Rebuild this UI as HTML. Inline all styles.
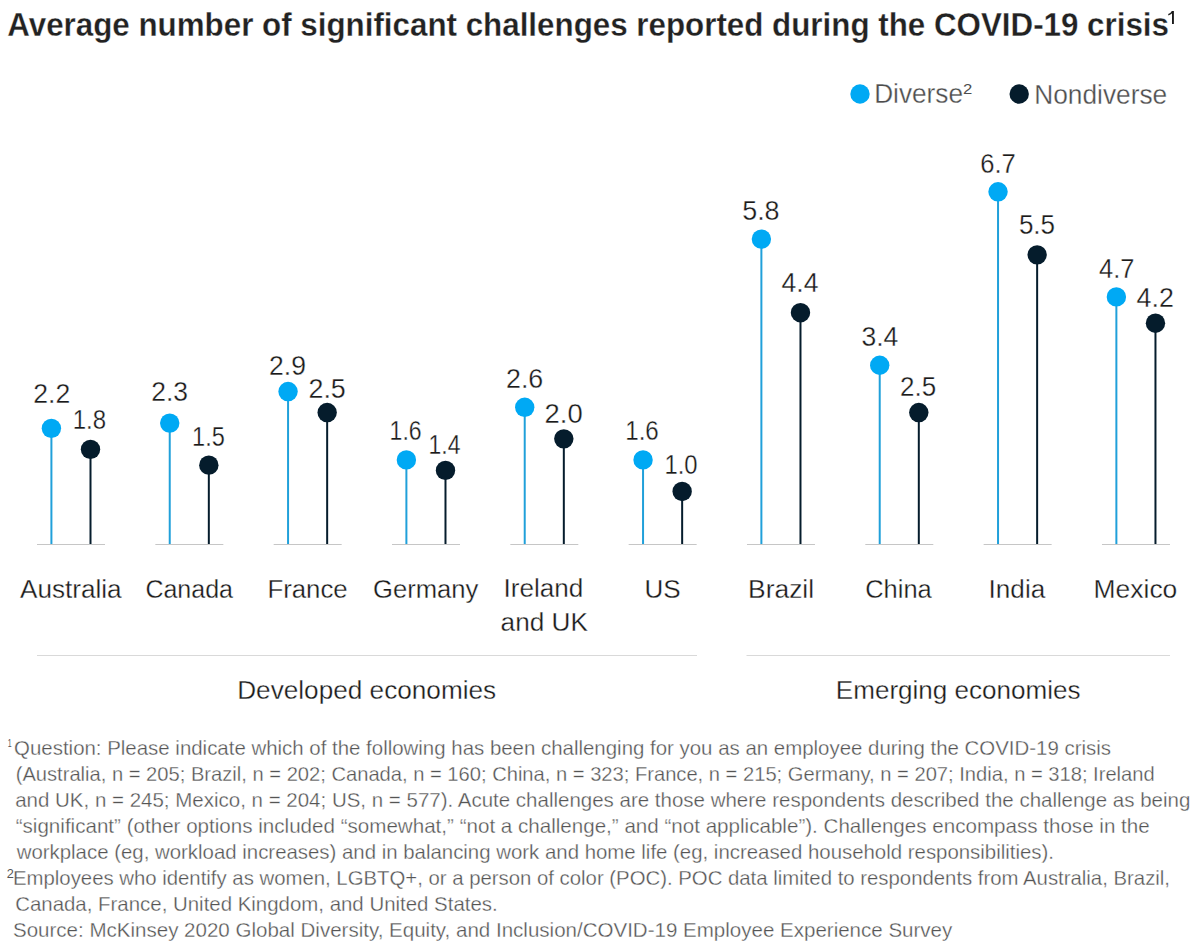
<!DOCTYPE html>
<html><head><meta charset="utf-8"><title>Average number of significant challenges reported during the COVID-19 crisis</title><style>
html,body{margin:0;padding:0;background:#fff;}
body{width:1200px;height:950px;overflow:hidden;}
svg{display:block;font-family:"Liberation Sans",sans-serif;}
text{stroke:#fff;stroke-width:0.3px;}
</style></head><body>
<svg width="1200" height="950" viewBox="0 0 1200 950">
<path d="M1172 10.9H1173.9V23.9H1172Z" fill="#1a1a1a"/><path d="M1168.3 14.7Q1171 14.3 1172.5 11.4" stroke="#1a1a1a" stroke-width="1.4" fill="none"/>
<circle cx="860" cy="94" r="9.7" fill="#00A9F4"/>
<circle cx="1019.2" cy="94" r="9.7" fill="#051C2C"/>
<line x1="37.00" y1="544.5" x2="105.00" y2="544.5" stroke="#c6c6c6" stroke-width="1"/>
<line x1="51.40" y1="428.35" x2="51.40" y2="544" stroke="#20A0DA" stroke-width="2"/>
<line x1="90.50" y1="449.37" x2="90.50" y2="544" stroke="#051C2C" stroke-width="2"/>
<circle cx="51.40" cy="428.35" r="9.7" fill="#00A9F4"/>
<circle cx="90.50" cy="449.37" r="9.7" fill="#051C2C"/>
<line x1="155.33" y1="544.5" x2="223.33" y2="544.5" stroke="#c6c6c6" stroke-width="1"/>
<line x1="169.73" y1="423.09" x2="169.73" y2="544" stroke="#20A0DA" stroke-width="2"/>
<line x1="208.83" y1="465.14" x2="208.83" y2="544" stroke="#051C2C" stroke-width="2"/>
<circle cx="169.73" cy="423.09" r="9.7" fill="#00A9F4"/>
<circle cx="208.83" cy="465.14" r="9.7" fill="#051C2C"/>
<line x1="273.66" y1="544.5" x2="341.66" y2="544.5" stroke="#c6c6c6" stroke-width="1"/>
<line x1="288.06" y1="391.55" x2="288.06" y2="544" stroke="#20A0DA" stroke-width="2"/>
<line x1="327.16" y1="412.57" x2="327.16" y2="544" stroke="#051C2C" stroke-width="2"/>
<circle cx="288.06" cy="391.55" r="9.7" fill="#00A9F4"/>
<circle cx="327.16" cy="412.57" r="9.7" fill="#051C2C"/>
<line x1="391.99" y1="544.5" x2="459.99" y2="544.5" stroke="#c6c6c6" stroke-width="1"/>
<line x1="406.39" y1="459.89" x2="406.39" y2="544" stroke="#20A0DA" stroke-width="2"/>
<line x1="445.49" y1="470.40" x2="445.49" y2="544" stroke="#051C2C" stroke-width="2"/>
<circle cx="406.39" cy="459.89" r="9.7" fill="#00A9F4"/>
<circle cx="445.49" cy="470.40" r="9.7" fill="#051C2C"/>
<line x1="510.32" y1="544.5" x2="578.32" y2="544.5" stroke="#c6c6c6" stroke-width="1"/>
<line x1="524.72" y1="407.32" x2="524.72" y2="544" stroke="#20A0DA" stroke-width="2"/>
<line x1="563.82" y1="438.86" x2="563.82" y2="544" stroke="#051C2C" stroke-width="2"/>
<circle cx="524.72" cy="407.32" r="9.7" fill="#00A9F4"/>
<circle cx="563.82" cy="438.86" r="9.7" fill="#051C2C"/>
<line x1="628.65" y1="544.5" x2="696.65" y2="544.5" stroke="#c6c6c6" stroke-width="1"/>
<line x1="643.05" y1="459.89" x2="643.05" y2="544" stroke="#20A0DA" stroke-width="2"/>
<line x1="682.15" y1="491.43" x2="682.15" y2="544" stroke="#051C2C" stroke-width="2"/>
<circle cx="643.05" cy="459.89" r="9.7" fill="#00A9F4"/>
<circle cx="682.15" cy="491.43" r="9.7" fill="#051C2C"/>
<line x1="746.98" y1="544.5" x2="814.98" y2="544.5" stroke="#c6c6c6" stroke-width="1"/>
<line x1="761.38" y1="239.09" x2="761.38" y2="544" stroke="#20A0DA" stroke-width="2"/>
<line x1="800.48" y1="312.69" x2="800.48" y2="544" stroke="#051C2C" stroke-width="2"/>
<circle cx="761.38" cy="239.09" r="9.7" fill="#00A9F4"/>
<circle cx="800.48" cy="312.69" r="9.7" fill="#051C2C"/>
<line x1="865.31" y1="544.5" x2="933.31" y2="544.5" stroke="#c6c6c6" stroke-width="1"/>
<line x1="879.71" y1="365.26" x2="879.71" y2="544" stroke="#20A0DA" stroke-width="2"/>
<line x1="918.81" y1="412.57" x2="918.81" y2="544" stroke="#051C2C" stroke-width="2"/>
<circle cx="879.71" cy="365.26" r="9.7" fill="#00A9F4"/>
<circle cx="918.81" cy="412.57" r="9.7" fill="#051C2C"/>
<line x1="983.64" y1="544.5" x2="1051.64" y2="544.5" stroke="#c6c6c6" stroke-width="1"/>
<line x1="998.04" y1="191.78" x2="998.04" y2="544" stroke="#20A0DA" stroke-width="2"/>
<line x1="1037.14" y1="254.87" x2="1037.14" y2="544" stroke="#051C2C" stroke-width="2"/>
<circle cx="998.04" cy="191.78" r="9.7" fill="#00A9F4"/>
<circle cx="1037.14" cy="254.87" r="9.7" fill="#051C2C"/>
<line x1="1101.97" y1="544.5" x2="1169.97" y2="544.5" stroke="#c6c6c6" stroke-width="1"/>
<line x1="1116.37" y1="296.92" x2="1116.37" y2="544" stroke="#20A0DA" stroke-width="2"/>
<line x1="1155.47" y1="323.21" x2="1155.47" y2="544" stroke="#051C2C" stroke-width="2"/>
<circle cx="1116.37" cy="296.92" r="9.7" fill="#00A9F4"/>
<circle cx="1155.47" cy="323.21" r="9.7" fill="#051C2C"/>
<line x1="37" y1="655.5" x2="697" y2="655.5" stroke="#d9d9d9" stroke-width="1"/>
<line x1="746.5" y1="655.5" x2="1170" y2="655.5" stroke="#d9d9d9" stroke-width="1"/>
<text id="title" x="7.30" y="35.5" textLength="1161.70" lengthAdjust="spacingAndGlyphs" style="font-size:32.6px;font-weight:bold;fill:#222222">Average number of significant challenges reported during the COVID-19 crisis</text>
<text id="ldiv" x="874.20" y="103.4" textLength="88.80" lengthAdjust="spacingAndGlyphs" style="font-size:27.2px;font-weight:normal;fill:#4d4d4d">Diverse</text>
<text id="lsup" x="963.00" y="94.0" textLength="9.30" lengthAdjust="spacingAndGlyphs" style="font-size:15.5px;font-weight:normal;fill:#4d4d4d;stroke:none">2</text>
<text id="lnon" x="1034.20" y="103.6" textLength="133.00" lengthAdjust="spacingAndGlyphs" style="font-size:27.2px;font-weight:normal;fill:#4d4d4d">Nondiverse</text>
<text id="v0a" x="33.30" y="403.0" textLength="37.00" lengthAdjust="spacingAndGlyphs" style="font-size:27.0px;font-weight:normal;fill:#1a1a1a">2.2</text>
<text id="v0b" x="72.70" y="429.2" textLength="33.40" lengthAdjust="spacingAndGlyphs" style="font-size:27.0px;font-weight:normal;fill:#1a1a1a">1.8</text>
<text id="v1a" x="151.30" y="401.3" textLength="36.80" lengthAdjust="spacingAndGlyphs" style="font-size:27.0px;font-weight:normal;fill:#1a1a1a">2.3</text>
<text id="v1b" x="192.10" y="445.6" textLength="32.70" lengthAdjust="spacingAndGlyphs" style="font-size:27.0px;font-weight:normal;fill:#1a1a1a">1.5</text>
<text id="v2a" x="269.10" y="374.9" textLength="36.90" lengthAdjust="spacingAndGlyphs" style="font-size:27.0px;font-weight:normal;fill:#1a1a1a">2.9</text>
<text id="v2b" x="308.50" y="397.6" textLength="37.30" lengthAdjust="spacingAndGlyphs" style="font-size:27.0px;font-weight:normal;fill:#1a1a1a">2.5</text>
<text id="v3a" x="389.60" y="439.6" textLength="32.00" lengthAdjust="spacingAndGlyphs" style="font-size:27.0px;font-weight:normal;fill:#1a1a1a">1.6</text>
<text id="v3b" x="428.50" y="453.8" textLength="31.90" lengthAdjust="spacingAndGlyphs" style="font-size:27.0px;font-weight:normal;fill:#1a1a1a">1.4</text>
<text id="v4a" x="506.00" y="387.9" textLength="37.30" lengthAdjust="spacingAndGlyphs" style="font-size:27.0px;font-weight:normal;fill:#1a1a1a">2.6</text>
<text id="v4b" x="544.60" y="422.5" textLength="38.10" lengthAdjust="spacingAndGlyphs" style="font-size:27.0px;font-weight:normal;fill:#1a1a1a">2.0</text>
<text id="v5a" x="625.20" y="439.8" textLength="33.60" lengthAdjust="spacingAndGlyphs" style="font-size:27.0px;font-weight:normal;fill:#1a1a1a">1.6</text>
<text id="v5b" x="664.40" y="473.5" textLength="33.10" lengthAdjust="spacingAndGlyphs" style="font-size:27.0px;font-weight:normal;fill:#1a1a1a">1.0</text>
<text id="v6a" x="742.20" y="219.5" textLength="37.40" lengthAdjust="spacingAndGlyphs" style="font-size:27.0px;font-weight:normal;fill:#1a1a1a">5.8</text>
<text id="v6b" x="781.60" y="292.4" textLength="36.90" lengthAdjust="spacingAndGlyphs" style="font-size:27.0px;font-weight:normal;fill:#1a1a1a">4.4</text>
<text id="v7a" x="861.40" y="346.0" textLength="36.90" lengthAdjust="spacingAndGlyphs" style="font-size:27.0px;font-weight:normal;fill:#1a1a1a">3.4</text>
<text id="v7b" x="900.00" y="395.9" textLength="36.10" lengthAdjust="spacingAndGlyphs" style="font-size:27.0px;font-weight:normal;fill:#1a1a1a">2.5</text>
<text id="v8a" x="980.20" y="172.7" textLength="35.60" lengthAdjust="spacingAndGlyphs" style="font-size:27.0px;font-weight:normal;fill:#1a1a1a">6.7</text>
<text id="v8b" x="1018.90" y="233.8" textLength="36.20" lengthAdjust="spacingAndGlyphs" style="font-size:27.0px;font-weight:normal;fill:#1a1a1a">5.5</text>
<text id="v9a" x="1099.00" y="278.4" textLength="35.40" lengthAdjust="spacingAndGlyphs" style="font-size:27.0px;font-weight:normal;fill:#1a1a1a">4.7</text>
<text id="v9b" x="1136.60" y="306.8" textLength="37.30" lengthAdjust="spacingAndGlyphs" style="font-size:27.0px;font-weight:normal;fill:#1a1a1a">4.2</text>
<text id="c0" x="20.00" y="597.6" textLength="101.60" lengthAdjust="spacingAndGlyphs" style="font-size:26.6px;font-weight:normal;fill:#1a1a1a">Australia</text>
<text id="c1" x="145.40" y="597.6" textLength="87.60" lengthAdjust="spacingAndGlyphs" style="font-size:26.6px;font-weight:normal;fill:#1a1a1a">Canada</text>
<text id="c2" x="267.40" y="597.6" textLength="80.30" lengthAdjust="spacingAndGlyphs" style="font-size:26.6px;font-weight:normal;fill:#1a1a1a">France</text>
<text id="c3" x="373.00" y="597.6" textLength="105.40" lengthAdjust="spacingAndGlyphs" style="font-size:26.6px;font-weight:normal;fill:#1a1a1a">Germany</text>
<text id="c4" x="503.50" y="597.4" textLength="79.80" lengthAdjust="spacingAndGlyphs" style="font-size:26.6px;font-weight:normal;fill:#1a1a1a">Ireland</text>
<text id="c4b" x="500.60" y="631.3" textLength="87.30" lengthAdjust="spacingAndGlyphs" style="font-size:26.6px;font-weight:normal;fill:#1a1a1a">and UK</text>
<text id="c5" x="644.50" y="597.6" textLength="36.20" lengthAdjust="spacingAndGlyphs" style="font-size:26.6px;font-weight:normal;fill:#1a1a1a">US</text>
<text id="c6" x="748.00" y="597.6" textLength="66.10" lengthAdjust="spacingAndGlyphs" style="font-size:26.6px;font-weight:normal;fill:#1a1a1a">Brazil</text>
<text id="c7" x="865.20" y="597.6" textLength="66.50" lengthAdjust="spacingAndGlyphs" style="font-size:26.6px;font-weight:normal;fill:#1a1a1a">China</text>
<text id="c8" x="988.60" y="597.6" textLength="56.60" lengthAdjust="spacingAndGlyphs" style="font-size:26.6px;font-weight:normal;fill:#1a1a1a">India</text>
<text id="c9" x="1093.60" y="597.6" textLength="83.70" lengthAdjust="spacingAndGlyphs" style="font-size:26.6px;font-weight:normal;fill:#1a1a1a">Mexico</text>
<text id="e0" x="237.20" y="699.2" textLength="259.00" lengthAdjust="spacingAndGlyphs" style="font-size:26.6px;font-weight:normal;fill:#1a1a1a">Developed economies</text>
<text id="e1" x="835.80" y="699.2" textLength="244.80" lengthAdjust="spacingAndGlyphs" style="font-size:26.6px;font-weight:normal;fill:#1a1a1a">Emerging economies</text>
<text id="f1" x="14.10" y="754.8" textLength="1096.90" lengthAdjust="spacingAndGlyphs" style="font-size:20.2px;font-weight:normal;fill:#555555">Question: Please indicate which of the following has been challenging for you as an employee during the COVID-19 crisis</text>
<text id="f2" x="15.70" y="780.8" textLength="1139.00" lengthAdjust="spacingAndGlyphs" style="font-size:20.2px;font-weight:normal;fill:#555555">(Australia, n = 205; Brazil, n = 202; Canada, n = 160; China, n = 323; France, n = 215; Germany, n = 207; India, n = 318; Ireland</text>
<text id="f3" x="15.20" y="806.7" textLength="1175.10" lengthAdjust="spacingAndGlyphs" style="font-size:20.2px;font-weight:normal;fill:#555555">and UK, n = 245; Mexico, n = 204; US, n = 577). Acute challenges are those where respondents described the challenge as being</text>
<text id="f4" x="15.70" y="832.7" textLength="1134.00" lengthAdjust="spacingAndGlyphs" style="font-size:20.2px;font-weight:normal;fill:#555555">“significant” (other options included “somewhat,” “not a challenge,” and “not applicable”). Challenges encompass those in the</text>
<text id="f5" x="16.70" y="858.7" textLength="1037.30" lengthAdjust="spacingAndGlyphs" style="font-size:20.2px;font-weight:normal;fill:#555555">workplace (eg, workload increases) and in balancing work and home life (eg, increased household responsibilities).</text>
<text id="f6" x="13.00" y="884.7" textLength="1157.00" lengthAdjust="spacingAndGlyphs" style="font-size:20.2px;font-weight:normal;fill:#555555">Employees who identify as women, LGBTQ+, or a person of color (POC). POC data limited to respondents from Australia, Brazil,</text>
<text id="f7" x="15.20" y="910.6" textLength="482.50" lengthAdjust="spacingAndGlyphs" style="font-size:20.2px;font-weight:normal;fill:#555555">Canada, France, United Kingdom, and United States.</text>
<text id="f8" x="13.00" y="936.6" textLength="939.30" lengthAdjust="spacingAndGlyphs" style="font-size:20.2px;font-weight:normal;fill:#555555">Source: McKinsey 2020 Global Diversity, Equity, and Inclusion/COVID-19 Employee Experience Survey</text>
<text id="fs1" x="7.80" y="747.2" textLength="3.90" lengthAdjust="spacingAndGlyphs" style="font-size:11.5px;font-weight:normal;fill:#555555;stroke:none">1</text>
<text id="fs2" x="6.80" y="877.6" textLength="7.10" lengthAdjust="spacingAndGlyphs" style="font-size:13.0px;font-weight:normal;fill:#555555;stroke:none">2</text>
</svg>
</body></html>
